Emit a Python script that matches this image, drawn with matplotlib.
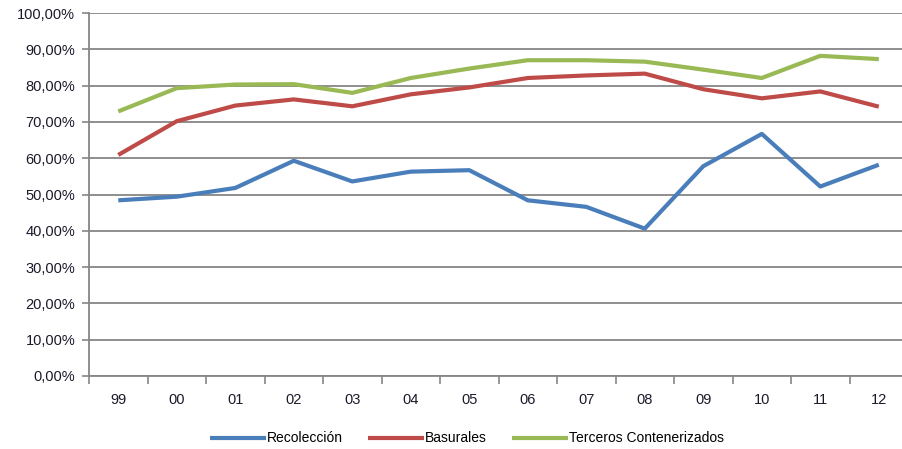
import numpy as np
import matplotlib
matplotlib.use("Agg")
import matplotlib.pyplot as plt
from matplotlib.ticker import FuncFormatter, FixedLocator

years = ['99', '00', '01', '02', '03', '04', '05', '06', '07', '08', '09', '10', '11', '12']
recoleccion = [48.4, 49.4, 51.8, 59.3, 53.6, 56.3, 56.7, 48.4, 46.6, 40.6, 57.8, 66.7, 52.2, 58.2]
basurales = [60.9, 70.2, 74.5, 76.2, 74.3, 77.6, 79.5, 82.1, 82.8, 83.3, 79.0, 76.5, 78.4, 74.2]
terceros = [72.9, 79.3, 80.3, 80.4, 78.0, 82.1, 84.7, 87.0, 87.0, 86.6, 84.4, 82.1, 88.2, 87.3]

plt.rcParams['font.family'] = ['Liberation Sans', 'DejaVu Sans']

fig = plt.figure(figsize=(9.02, 4.49), dpi=100)
ax = fig.add_axes([0.0987, 0.1626, 0.908, 0.8084])

x = np.arange(len(years))
ax.plot(x, recoleccion, color='#4A7EBB', lw=3, label='Recolección', solid_capstyle='butt')
ax.plot(x, basurales, color='#BE4B48', lw=3, label='Basurales', solid_capstyle='butt')
ax.plot(x, terceros, color='#98B954', lw=3, label='Terceros Contenerizados', solid_capstyle='butt')

ax.set_xlim(-0.5, len(years) - 0.5)
ax.set_ylim(0, 100)
ax.set_yticks(np.arange(0, 101, 10))
ax.yaxis.set_major_formatter(FuncFormatter(lambda v, p: f'{v:.2f}'.replace('.', ',') + '%'))
ax.set_xticks(x)
ax.set_xticklabels(years)
ax.xaxis.set_minor_locator(FixedLocator(np.arange(-0.5, len(years), 1)))
ax.tick_params(axis='x', which='major', length=0, pad=12, labelsize=10.5, labelcolor='#1a1a2a')
ax.tick_params(axis='x', which='minor', length=6, width=1.2, color='#868686', direction='out')
ax.tick_params(axis='y', length=5, width=1.2, color='#868686', labelsize=10.5, labelcolor='#1a1a2a', pad=5)

ax.grid(axis='y', color='#868686', lw=1.3)
ax.set_axisbelow(True)
for s in ['top', 'right']:
    ax.spines[s].set_visible(False)
for s in ['left', 'bottom']:
    ax.spines[s].set_color('#868686')
    ax.spines[s].set_linewidth(1.3)

fig.legend(loc='lower center', bbox_to_anchor=(0.518, -0.02), ncol=3, frameon=False,
           fontsize=10, handlelength=4, handletextpad=0.1, columnspacing=1.8)

fig.savefig('out.png', dpi=100)
